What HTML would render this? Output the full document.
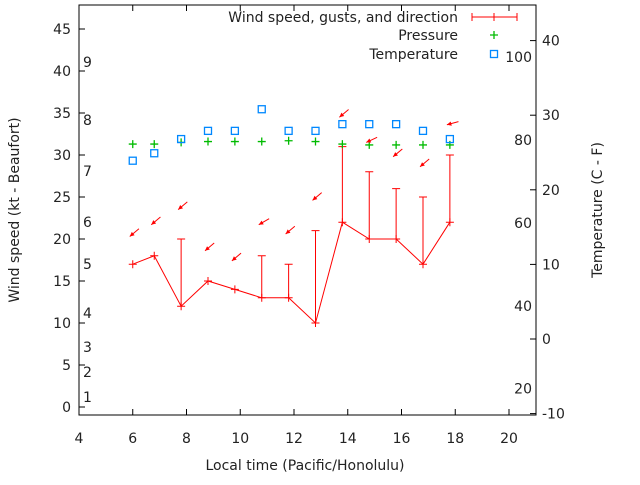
<!DOCTYPE html>
<html><head><meta charset="utf-8"><style>
body{margin:0;background:#fff}
svg text{font-family:"DejaVu Sans","Liberation Sans",sans-serif;font-size:14px;fill:#222}
</style></head><body>
<svg width="640" height="480">
<g id="g"></g>
</svg>
<script>
const times=[6,6.8,7.8,8.8,9.8,10.8,11.8,12.8,13.8,14.8,15.8,16.8,17.8];
const speed=[17,18,12,15,14,13,13,10,22,20,20,17,22];
const gust=[null,null,20,null,null,18,17,21,31,28,26,25,30];
const pressure=[31.3,31.3,31.5,31.6,31.6,31.6,31.7,31.6,31.3,31.2,31.2,31.2,31.2];
const tempC=[23.9,24.9,26.8,27.9,27.9,30.8,27.9,27.9,28.8,28.8,28.8,27.9,26.8];
const arrowY=[20.3,21.7,23.5,18.6,17.4,21.7,20.6,24.6,34.5,31.5,29.8,28.6,33.6];
const arrowDir=[40,40,40,40,40,30,40,40,40,25,40,40,15];
const xTicks=[4,6,8,10,12,14,16,18,20];
const yTicks=[0,5,10,15,20,25,30,35,40,45];
const y2Ticks=[-10,0,10,20,30,40];
const fTicks=[20,40,60,80,100];
const beaufort=[[1,397],[2,372],[3,347],[4,313],[5,264],[6,222],[7,171],[8,120],[9,62]];
const L=79,R=536,T=5,B=415;
const X=v=>L+(v-4)*(509-79)/16;
const Y=v=>407-v*8.4;
const Y2=c=>339-c*7.46;
const g=document.getElementById('g');
const NS='http://www.w3.org/2000/svg';
function mk(t,a,p){const e=document.createElementNS(NS,t);for(const k in a)e.setAttribute(k,a[k]);(p||g).appendChild(e);return e;}
let e;
e=mk('rect',{x:L,y:T,width:R-L,height:B-T,fill:'none',stroke:'#000'});


xTicks.forEach(v=>{const x=X(v);
 mk('line',{x1:x,x2:x,y1:B,y2:B-6,stroke:'#000'});mk('line',{x1:x,x2:x,y1:T,y2:T+6,stroke:'#000'});
 e=mk('text',{x:x,y:B+28,'text-anchor':'middle'});e.textContent=v;
 
 });
yTicks.forEach(v=>{const y=Y(v);
 mk('line',{x1:L,x2:L+6,y1:y,y2:y,stroke:'#000'});
 e=mk('text',{x:L-8,y:y+5,'text-anchor':'end'});e.textContent=v;
 
 });
y2Ticks.forEach(v=>{const y=Y2(v);
 mk('line',{x1:R,x2:R-6,y1:y,y2:y,stroke:'#000'});
 e=mk('text',{x:R+6,y:y+5});e.textContent=v;
 
 });
fTicks.forEach(v=>{const y=Y2((v-32)/1.8);
 e=mk('text',{x:R-4,y:y+5,'text-anchor':'end'});e.textContent=v;
 
 });
beaufort.forEach(b=>{e=mk('text',{x:83,y:b[1]+5});e.textContent=b[0];
 
 });
e=mk('polyline',{points:times.map((t,i)=>X(t)+','+Y(speed[i])).join(' '),fill:'none',stroke:'#f00'});


times.forEach((t,i)=>{const x=X(t),y=Y(speed[i]);
 mk('path',{d:`M${x-4},${y}h8M${x},${y-4}v8`,stroke:'#f00'});
 if(gust[i]!=null){const gy=Y(gust[i]);
  e=mk('path',{d:`M${x},${y}V${gy}M${x-4},${gy}h8`,stroke:'#f00',fill:'none'});
  
  }
});
times.forEach((t,i)=>{const x=X(t),y=Y(pressure[i]);
 e=mk('path',{d:`M${x-4},${y}h8M${x},${y-4}v8`,stroke:'#0b0','stroke-width':1.3});
 
 });
times.forEach((t,i)=>{const x=X(t),y=Y2(tempC[i]);
 e=mk('rect',{x:x-3.5,y:y-3.5,width:7,height:7,fill:'none',stroke:'#08f','stroke-width':1.3});
 
 });
times.forEach((t,i)=>{const x=X(t)-3,y=Y(arrowY[i]);const a=arrowDir[i]*Math.PI/180;
 const tx=x+12*Math.cos(a),ty=y-12*Math.sin(a);
 const hx=5*Math.cos(a+0.45),hy=-5*Math.sin(a+0.45),kx=5*Math.cos(a-0.45),ky=-5*Math.sin(a-0.45);
 e=mk('g',{});
 
 
 mk('line',{x1:x,y1:y,x2:tx,y2:ty,stroke:'#f00'},e);
 mk('path',{d:`M${x},${y}L${x+hx},${y+hy}L${x+kx},${y+ky}Z`,fill:'#f00'},e);});
const leg=[['Wind speed, gusts, and direction',17],['Pressure',35],['Temperature',54]];
leg.forEach((l,i)=>{e=mk('text',{x:458,y:l[1]+5,'text-anchor':'end'});e.textContent=l[0];
 
 });
mk('path',{d:'M472,17h45M472,13v8M517,13v8M494,13v8',stroke:'#f00'});
mk('path',{d:'M490,35h8M494,31v8',stroke:'#0b0','stroke-width':1.3});
mk('rect',{x:490.5,y:50.5,width:7,height:7,fill:'none',stroke:'#08f','stroke-width':1.3});
e=mk('text',{x:305,y:470,'text-anchor':'middle'});e.textContent='Local time (Pacific/Honolulu)';


e=mk('text',{x:19,y:210,'text-anchor':'middle',transform:'rotate(-90 19 210)'});e.textContent='Wind speed (kt - Beaufort)';


e=mk('text',{x:602,y:210,'text-anchor':'middle',transform:'rotate(-90 602 210)'});e.textContent='Temperature (C - F)';


</script>
</body></html>
